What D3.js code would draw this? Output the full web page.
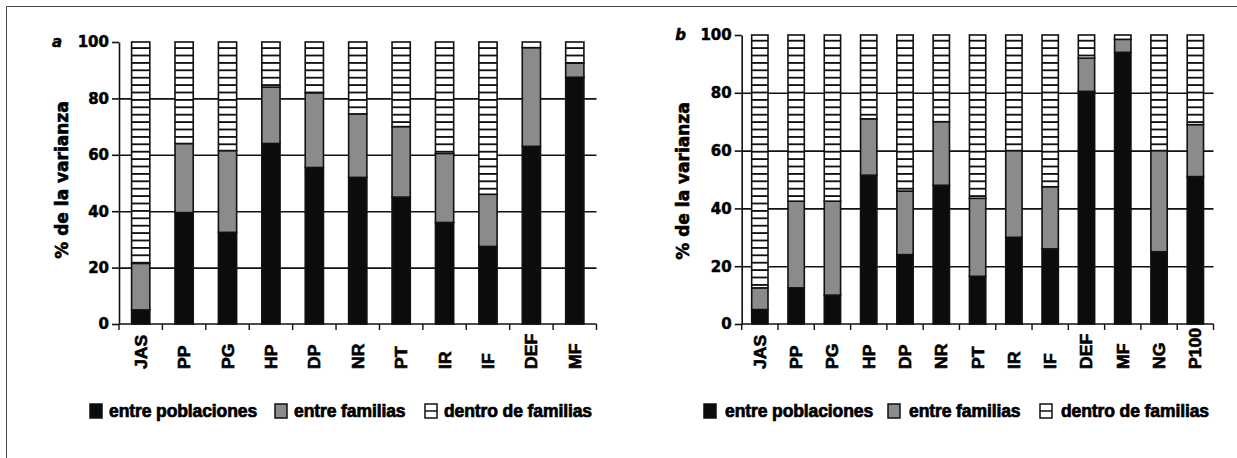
<!DOCTYPE html>
<html>
<head>
<meta charset="utf-8">
<script src="https://cdn.jsdelivr.net/npm/d3@7"></script>
<style>
  body { margin: 0; background: #fff; }
  svg { display: block; }
</style>
</head>
<body>
<div id="res"></div>
<script>
/* data, % of variance */
var seriesKeys = ["pobl", "fam", "dentro"];
var seriesNames = ["entre poblaciones", "entre familias", "dentro de familias"];
var yTicks = [0, 20, 40, 60, 80, 100];
var gridTicks = [20, 40, 60, 80];

var catsA = ["JAS", "PP", "PG", "HP", "DP", "NR", "PT", "IR", "IF", "DEF", "MF"];
var poblA = [5, 39.5, 32.5, 64, 55.5, 52, 45, 36, 27.5, 63, 87.5];
var famA = [16.5, 24.5, 29, 20, 26.5, 22.5, 25, 24.5, 18.5, 35, 5];
var dentroA = [78.5, 36, 38.5, 16, 18, 25.5, 30, 39.5, 54, 2, 7.5];

var catsB = ["JAS", "PP", "PG", "HP", "DP", "NR", "PT", "IR", "IF", "DEF", "MF", "NG", "P100"];
var poblB = [5, 12.5, 10, 51.5, 24, 48, 16.5, 30, 26, 80.5, 94, 25, 51];
var famB = [7.5, 30, 32.5, 19.5, 22, 22, 27, 30, 21.5, 11.5, 4.5, 35, 18];
var dentroB = [87.5, 57.5, 57.5, 29, 54, 30, 56.5, 40, 52.5, 8, 1.5, 40, 31];

var width = 1237, height = 458;

var svg = d3.select("#res")
  .append("svg")
    .attr("width", width)
    .attr("height", height);

/* hatch pattern for "dentro de familias" */
var pat = svg.append("defs").append("pattern")
  .attr("id", "hatch")
  .attr("patternUnits", "userSpaceOnUse")
  .attr("width", 40)
  .attr("height", 7.4);
pat.append("rect").attr("width", 40).attr("height", 7.4).attr("fill", "#fff");
pat.append("line")
  .attr("x1", 0).attr("x2", 40)
  .attr("y1", 3.7).attr("y2", 3.7)
  .attr("stroke", "#111").attr("stroke-width", 1.8);

var fills = ["#0c0c0c", "#8b8b8b", "url(#hatch)"];

/* heavy text like the scanned figure */
function heavy(sel, family, size, sw) {
  sel.style("font-family", family)
    .style("font-weight", "bold")
    .style("font-size", size)
    .attr("fill", "#000")
    .attr("stroke", "#000")
    .attr("stroke-width", sw);
}
var sans = "'Liberation Sans', Arial, sans-serif";
var dejavu = "'DejaVu Sans', Verdana, sans-serif";

/* partial frame of the original figure */
svg.append("line").attr("x1", 6.5).attr("y1", 6.5).attr("x2", width).attr("y2", 6.5)
  .attr("stroke", "#444").attr("stroke-width", 1);
svg.append("line").attr("x1", 6.5).attr("y1", 6.5).attr("x2", 6.5).attr("y2", height)
  .attr("stroke", "#444").attr("stroke-width", 1);

function drawChart(cfg) {
  var rows = cfg.cats.map(function(c, i) {
    return { cat: c, pobl: cfg.pobl[i], fam: cfg.fam[i], dentro: cfg.dentro[i] };
  });

  var x = d3.scaleBand()
    .domain(cfg.cats)
    .range([cfg.x0, cfg.x1])
    .paddingInner(cfg.pad)
    .paddingOuter(cfg.pad / 2);

  var y = d3.scaleLinear()
    .domain([0, 100])
    .range([cfg.y0, cfg.y1]);

  var g = svg.append("g");

  /* gridlines behind bars */
  g.append("g")
    .attr("transform", "translate(" + cfg.x0 + ",0)")
    .call(d3.axisLeft(y).tickValues(gridTicks).tickSize(-(cfg.x1 - cfg.x0)).tickFormat(""))
    .call(function(a) { a.select(".domain").remove(); })
    .selectAll("line")
      .attr("stroke", "#111")
      .attr("stroke-width", 1.6);

  /* stacked bars */
  var stack = d3.stack().keys(seriesKeys)(rows);
  g.selectAll(".serie")
    .data(stack)
    .join("g")
      .attr("fill", function(d, i) { return fills[i]; })
    .selectAll("rect")
    .data(function(d) { return d; })
    .join("rect")
      .attr("x", function(d) { return x(d.data.cat); })
      .attr("width", x.bandwidth())
      .attr("y", function(d) { return y(d[1]); })
      .attr("height", function(d) { return y(d[0]) - y(d[1]); })
      .attr("stroke", "#111")
      .attr("stroke-width", 1.6);

  /* y axis */
  var ya = g.append("g")
    .attr("transform", "translate(" + cfg.x0 + ",0)")
    .call(d3.axisLeft(y).tickValues(yTicks).tickSize(7).tickSizeOuter(0).tickPadding(3));
  ya.selectAll("line, path").attr("stroke", "#111").attr("stroke-width", 1.6);
  ya.selectAll("text").call(heavy, dejavu, "15px", 0.5);

  /* x axis: domain plus ticks at band boundaries */
  g.append("line")
    .attr("x1", cfg.x0).attr("x2", cfg.x1)
    .attr("y1", y(0)).attr("y2", y(0))
    .attr("stroke", "#111").attr("stroke-width", 1.6);
  var bounds = d3.range(cfg.cats.length + 1).map(function(i) { return cfg.x0 + i * x.step(); });
  g.selectAll(".xtick")
    .data(bounds)
    .join("line")
      .attr("x1", function(d) { return d; }).attr("x2", function(d) { return d; })
      .attr("y1", y(0)).attr("y2", y(0) + 6)
      .attr("stroke", "#111").attr("stroke-width", 1.4);

  g.selectAll(".xlab")
    .data(cfg.cats)
    .join("text")
      .attr("transform", function(d) {
        return "translate(" + (x(d) + x.bandwidth() / 2 + 6) + "," + cfg.labBase + ") rotate(-90) scale(1.1,1)";
      })
      .attr("text-anchor", "start")
      .call(heavy, sans, "16px", 0.6)
      .text(function(d) { return d; });

  /* y title */
  g.append("text")
    .attr("transform", "translate(" + cfg.titleX + "," + cfg.titleY + ") rotate(-90)")
    .attr("text-anchor", "middle")
    .call(heavy, dejavu, "17px", 0.6)
    .text("% de la varianza");

  /* panel letter */
  g.append("text")
    .attr("x", cfg.letterX).attr("y", cfg.letterY)
    .attr("text-anchor", "end")
    .call(heavy, dejavu, "15px", 0.5)
    .style("font-style", "italic")
    .text(cfg.letter);

  /* legend */
  var lg = g.selectAll(".leg")
    .data(seriesNames)
    .join("g")
      .attr("transform", function(d, i) { return "translate(" + cfg.legX[i] + "," + cfg.legY + ")"; });
  lg.append("rect")
    .attr("width", 12).attr("height", 14)
    .attr("fill", function(d, i) { return i < 2 ? fills[i] : "#fff"; })
    .attr("stroke", "#111").attr("stroke-width", 1.5);
  lg.filter(function(d, i) { return i === 2; })
    .append("line")
      .attr("x1", 0).attr("x2", 12).attr("y1", 7).attr("y2", 7)
      .attr("stroke", "#111").attr("stroke-width", 1.5);
  lg.append("text")
    .attr("x", cfg.legGap)
    .attr("y", 13)
    .call(heavy, sans, "17.5px", 0.7)
    .style("letter-spacing", "-0.1px")
    .text(function(d) { return d; });
}

drawChart({
  cats: catsA, pobl: poblA, fam: famA, dentro: dentroA,
  x0: 119, x1: 596.5, y0: 324, y1: 42, pad: 0.58,
  labBase: 369, titleX: 68, titleY: 180,
  letter: "a", letterX: 62, letterY: 47,
  legX: [90, 275, 425], legY: 404, legGap: 19
});

drawChart({
  cats: catsB, pobl: poblB, fam: famB, dentro: dentroB,
  x0: 741.7, x1: 1213.5, y0: 324, y1: 35, pad: 0.55,
  labBase: 369, titleX: 689, titleY: 181,
  letter: "b", letterX: 686, letterY: 40,
  legX: [704, 888, 1040], legY: 404, legGap: 21
});
</script>
</body>
</html>
